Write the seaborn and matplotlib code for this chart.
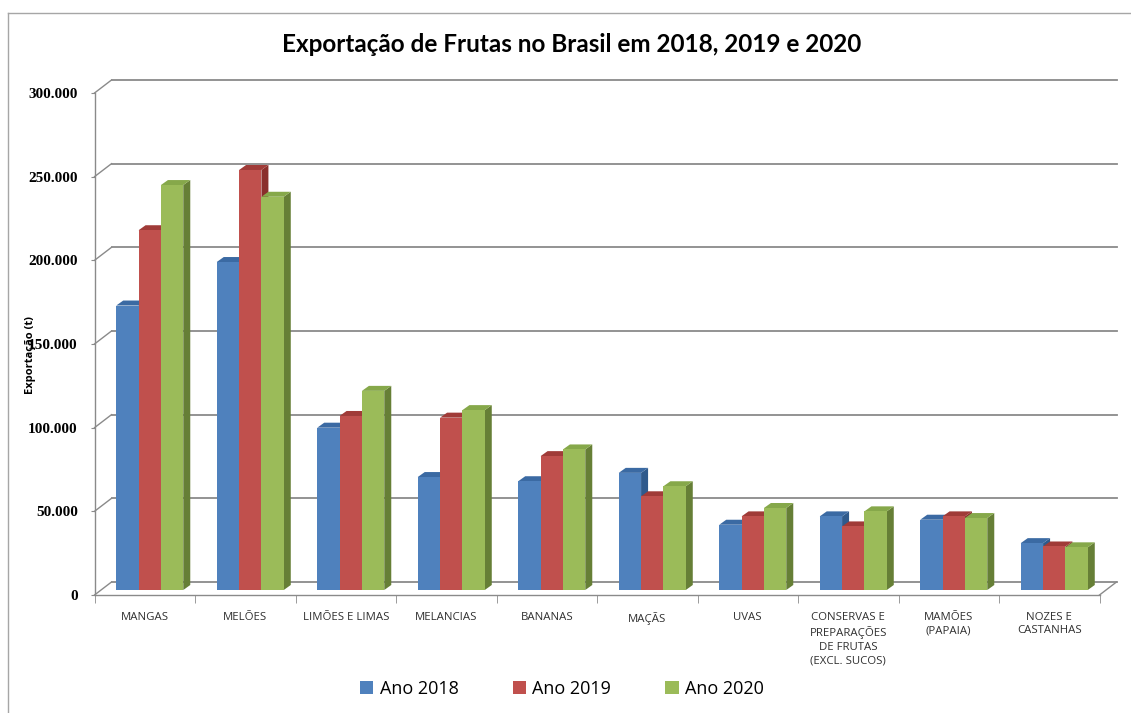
import matplotlib
matplotlib.use("Agg")
import matplotlib.pyplot as plt
import matplotlib.transforms as mtransforms
from matplotlib.patches import Polygon, Patch
from matplotlib.lines import Line2D
import numpy as np
import pandas as pd
import seaborn as sns

# ---- data -------------------------------------------------------------
categories = [
    "MANGAS", "MELÕES", "LIMÕES E LIMAS", "MELANCIAS", "BANANAS", "MAÇÃS",
    "UVAS", "CONSERVAS E\nPREPARAÇÕES\nDE FRUTAS\n(EXCL. SUCOS)",
    "MAMÕES\n(PAPAIA)", "NOZES E\nCASTANHAS",
]
years = ["Ano 2018", "Ano 2019", "Ano 2020"]
exp_2018 = [170000, 196000, 97000, 67500, 65000, 70000, 39000, 44000, 42000, 28000]
exp_2019 = [215000, 251000, 104000, 103000, 80000, 56000, 44000, 38000, 44000, 26000]
exp_2020 = [242000, 235000, 119000, 107500, 84000, 62000, 49000, 47000, 43000, 25500]
y_ticks = [0, 50000, 100000, 150000, 200000, 250000, 300000]

colors = ["#4F81BD", "#C0504D", "#9BBB59"]
top_colors = ["#3B6AA3", "#A03B38", "#86A84A"]
side_colors = ["#2F5A8C", "#8A2F2C", "#667F36"]

df = pd.DataFrame({
    "categoria": categories * 3,
    "ano": [y for y in years for _ in categories],
    "valor": exp_2018 + exp_2019 + exp_2020,
})

# ---- figure -------------------------------------------------------------
W, H = 1131, 713
fig = plt.figure(figsize=(W / 100, H / 100), dpi=100)
fig.patch.set_facecolor("white")
ax = fig.add_axes([94.5 / W, (H - 595) / H, 1005 / W, 502 / H])
ax.set_facecolor("none")

sns.barplot(data=df, x="categoria", y="valor", hue="ano", order=categories,
            hue_order=years, palette=colors, saturation=1, width=0.667,
            ax=ax, legend=False, zorder=3, linewidth=0)

ax.set_xlim(-0.5, len(categories) - 0.5)
ax.set_ylim(0, 300000)

grid_col = "#8A8A8A"
# bars sit a little inside the floor
bar_off = mtransforms.offset_copy(ax.transData, fig, x=5, y=5, units="dots")
# back wall position and bar depth (pixels)
wall_dx, wall_dy = 17, 13
depth_dx, depth_dy = 7, 5

ident = mtransforms.IdentityTransform()
for i, p in enumerate(ax.patches):
    p.set_transform(bar_off)
    h = p.get_height()
    if h <= 0:
        continue
    k = i // len(categories)
    x0, y0 = bar_off.transform((p.get_x(), 0))
    x1, y1 = bar_off.transform((p.get_x() + p.get_width(), h))
    side = Polygon([(x1, y0), (x1 + depth_dx, y0 + depth_dy),
                    (x1 + depth_dx, y1 + depth_dy), (x1, y1)],
                   closed=True, facecolor=side_colors[k], edgecolor="none",
                   transform=ident, zorder=2, clip_on=False)
    top = Polygon([(x0, y1), (x1, y1), (x1 + depth_dx, y1 + depth_dy),
                   (x0 + depth_dx, y1 + depth_dy)],
                  closed=True, facecolor=top_colors[k], edgecolor="none",
                  transform=ident, zorder=2, clip_on=False)
    ax.add_patch(side)
    ax.add_patch(top)

# back wall gridlines and side-wall diagonals
xl, xr = ax.get_xlim()
for v in y_ticks:
    fx, fy = ax.transData.transform((xl, v))
    rx, _ = ax.transData.transform((xr, v))
    ax.add_line(Line2D([fx + wall_dx, rx + wall_dx], [fy + wall_dy, fy + wall_dy],
                       color=grid_col, lw=1.3, transform=ident, zorder=1,
                       clip_on=False))
    ax.add_line(Line2D([fx, fx + wall_dx], [fy, fy + wall_dy],
                       color=grid_col, lw=1.0, transform=ident, zorder=1,
                       clip_on=False))
# floor right edge
bx, by = ax.transData.transform((xr, 0))
ax.add_line(Line2D([bx, bx + wall_dx], [by, by + wall_dy], color=grid_col,
                   lw=1.0, transform=ident, zorder=1, clip_on=False))

# spines
for s in ["top", "right"]:
    ax.spines[s].set_visible(False)
for s in ["left", "bottom"]:
    ax.spines[s].set_color(grid_col)
    ax.spines[s].set_linewidth(1.0)

# y axis
ax.set_yticks(y_ticks)
ax.set_yticklabels([f"{v:,}".replace(",", ".") for v in y_ticks],
                   family="Liberation Serif", fontweight="bold", fontsize=11)
ax.tick_params(axis="y", length=3, color=grid_col, pad=9)
ax.set_ylabel("")

# x axis
ax.set_xticks(range(len(categories)))
ax.set_xticklabels(categories, family="Open Sans", fontsize=8.2, color="#303030",
                   linespacing=1.35, va="top")
ax.set_xticks(np.arange(-0.5, len(categories)), minor=True)
ax.tick_params(axis="x", which="major", length=0, pad=12)
ax.tick_params(axis="x", which="minor", length=6, color=grid_col)
ax.set_xlabel("")

fig.text(31 / W, 1 - 355 / H, "Exportação (t)", rotation=90, ha="center",
         va="center", fontsize=8, fontweight="bold", family="Open Sans")

fig.text(572 / W, 1 - 44 / H, "Exportação de Frutas no Brasil em 2018, 2019 e 2020",
         ha="center", va="center", fontsize=17.5, fontweight="bold", family="Lato")

handles = [Patch(facecolor=c, edgecolor="none") for c in colors]
fig.legend(handles, years, loc="center", bbox_to_anchor=(562 / W, 1 - 689 / H),
           ncol=3, frameon=False, handlelength=0.75,
           handleheight=0.75, handletextpad=0.35, columnspacing=3.0,
           prop={"family": "Open Sans", "size": 13})

# chart area frame
frame_col = "#A6A6A6"
fig.add_artist(Line2D([8 / W, 1], [1 - 13 / H, 1 - 13 / H], color=frame_col,
                      lw=1.0, transform=fig.transFigure))
fig.add_artist(Line2D([8 / W, 8 / W], [0, 1 - 13 / H], color=frame_col,
                      lw=1.0, transform=fig.transFigure))

fig.savefig("out.png", dpi=100)
